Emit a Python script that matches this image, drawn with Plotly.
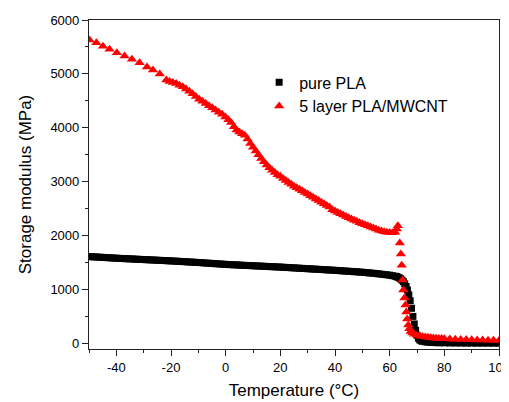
import plotly.graph_objects as go

# Pure PLA (temperature °C, storage modulus MPa)
black_T = [-50, -49, -48, -47, -46, -45, -44, -43, -42, -41, -40, -39, -38, -37, -36, -35, -34, -33, -32, -31,
           -30, -29, -28, -27, -26, -25, -24, -23, -22, -21, -20, -19, -18, -17, -16, -15, -14, -13, -12, -11,
           -10, -9, -8, -7, -6, -5, -4, -3, -2, -1, 0, 1, 2, 3, 4, 5, 6, 7, 8, 9,
           10, 11, 12, 13, 14, 15, 16, 17, 18, 19, 20, 21, 22, 23, 24, 25, 26, 27, 28, 29,
           30, 31, 32, 33, 34, 35, 36, 37, 38, 39, 40, 41, 42, 43, 44, 45, 46, 47, 48, 49,
           50, 51, 52, 53, 54, 55, 56, 57, 58, 59, 60, 61, 62, 62.5, 63, 63.5, 64, 64.5, 65, 65.5,
           66, 66.5, 67, 67.5, 68, 68.5, 69, 69.5, 70, 70.5, 71, 71.5, 72, 73, 74, 75, 76, 77, 78, 80,
           82, 84, 86, 88, 90, 92, 94, 96, 98, 100]
black_E = [1610, 1607, 1604, 1601, 1598, 1595, 1592, 1589, 1586, 1583, 1580, 1577, 1575, 1572, 1570, 1567, 1565, 1562, 1560, 1557,
           1555, 1552, 1550, 1547, 1545, 1542, 1540, 1537, 1535, 1532, 1530, 1527, 1524, 1521, 1518, 1515, 1512, 1509, 1506, 1503,
           1500, 1497, 1493, 1490, 1486, 1483, 1479, 1476, 1472, 1469, 1465, 1462, 1460, 1457, 1455, 1452, 1449, 1447, 1444, 1442,
           1440, 1437, 1435, 1432, 1430, 1427, 1425, 1422, 1420, 1417, 1415, 1412, 1409, 1406, 1403, 1400, 1397, 1394, 1391, 1388,
           1385, 1382, 1379, 1376, 1373, 1370, 1367, 1364, 1361, 1358, 1355, 1351, 1348, 1344, 1341, 1337, 1334, 1330, 1327, 1323,
           1320, 1315, 1310, 1305, 1300, 1295, 1289, 1283, 1277, 1271, 1265, 1256, 1246, 1238, 1228, 1215, 1198, 1175, 1145, 1105,
           1055, 990, 900, 790, 650, 500, 360, 240, 150, 95, 65, 48, 38, 28, 22, 18, 15, 13, 11, 9,
           7, 6, 5, 4, 4, 3, 3, 3, 2, 2]

# 5 layer PLA/MWCNT
red_T = [-49.8, -47.3, -44.9, -42.5, -39.8, -37.0, -34.3, -31.5, -28.8, -26.6, -24.1, -21.7,
         -20.5, -19.3, -18.1, -16.9, -15.7, -14.5, -13.3, -12.1, -10.9, -9.7, -8.5, -7.3, -6.1, -4.9,
         -3.7, -2.5, -1.3, -0.1, 1.0, 2.0, 3.0, 4.0, 5.0, 6.0, 7.0, 8.0, 9.0, 10.0,
         11, 12, 13, 14, 15, 16, 17, 18, 19, 20, 21, 22, 23, 24, 25, 26, 27, 28, 29, 30,
         31, 32, 33, 34, 35, 36, 37, 38, 39, 40, 41, 42, 43, 44, 45, 46, 47, 48, 49, 50,
         51, 52, 53, 54, 55, 56, 57, 58, 59, 60, 61, 62, 62.6, 63.0, 63.7, 64.1, 64.4, 64.7, 65.0, 65.4,
         65.8, 66.1, 66.4, 66.8, 67.2, 67.7, 68.3, 69, 70, 71, 72, 73, 74, 75, 76, 77, 78, 79, 80,
         82, 84, 86, 88, 90, 92, 94, 96, 98, 100]
red_E = [5630, 5580, 5515, 5455, 5390, 5330, 5270, 5205, 5130, 5070, 5000, 4885,
         4860, 4840, 4820, 4790, 4760, 4720, 4680, 4630, 4580, 4530, 4490, 4450, 4410, 4370,
         4330, 4290, 4250, 4200, 4150, 4100, 4020, 3960, 3920, 3890, 3860, 3790, 3710, 3640,
         3570, 3500, 3430, 3370, 3310, 3260, 3210, 3170, 3130, 3100, 3060, 3020, 2985, 2950, 2915, 2885, 2860, 2830, 2800, 2770,
         2740, 2710, 2680, 2650, 2620, 2590, 2560, 2530, 2480, 2455, 2430, 2405, 2380, 2355, 2330, 2305, 2285, 2265, 2240, 2220,
         2200, 2180, 2160, 2140, 2120, 2100, 2085, 2072, 2062, 2055, 2050, 2060, 2120, 2180, 1860, 1660, 1450, 1175, 990, 840,
         710, 580, 450, 340, 270, 220, 190, 170, 150, 135, 125, 118, 112, 106, 100, 96, 92, 88, 85,
         80, 76, 72, 69, 66, 63, 61, 59, 57, 55]

x_ticks = [-40, -20, 0, 20, 40, 60, 80, 100]
y_ticks = [0, 1000, 2000, 3000, 4000, 5000, 6000]

FONT = "Liberation Sans, Arial, sans-serif"

fig = go.Figure()
fig.add_trace(go.Scatter(x=black_T, y=black_E, mode="markers", name="pure PLA",
                         marker=dict(symbol="square", size=7, color="black", line=dict(width=0))))
fig.add_trace(go.Scatter(x=red_T, y=red_E, mode="markers", name="5 layer PLA/MWCNT",
                         marker=dict(symbol="triangle-up", size=9, color="#ff0000", line=dict(width=0))))

axis_common = dict(showline=True, linecolor="#222222", linewidth=1.2, mirror=True,
                   showgrid=False, zeroline=False, ticks="outside", ticklen=6, tickwidth=1.2,
                   tickcolor="#222222", tickfont=dict(family=FONT, size=13, color="black"),
                   automargin=False)

fig.update_xaxes(range=[-50, 100], tickvals=x_ticks, ticktext=[str(v) for v in x_ticks],
                 minor=dict(ticks="outside", ticklen=3, tickwidth=1.2, tickcolor="#222222", dtick=10, tick0=0),
                 title=dict(text="Temperature (°C)", font=dict(family=FONT, size=17, color="black"), standoff=10),
                 **axis_common)
fig.update_yaxes(range=[-105, 6000], tickvals=y_ticks, ticktext=[str(v) for v in y_ticks],
                 minor=dict(ticks="outside", ticklen=3, tickwidth=1.2, tickcolor="#222222", dtick=500, tick0=0),
                 title=dict(text="Storage modulus (MPa)", font=dict(family=FONT, size=17, color="black"), standoff=14),
                 **axis_common)

# page body adds an 8px offset; the figure is placed so the plot area matches the window
fig.update_layout(
    width=509, height=394,
    margin=dict(l=81, r=18, t=12, b=53),
    paper_bgcolor="white", plot_bgcolor="white",
    font=dict(family=FONT, color="black"),
    legend=dict(x=0.415, y=0.862, xanchor="left", yanchor="top", bgcolor="rgba(0,0,0,0)",
                font=dict(family=FONT, size=16, color="black"), itemwidth=30, tracegroupgap=0),
)

fig.write_html("out.html")
